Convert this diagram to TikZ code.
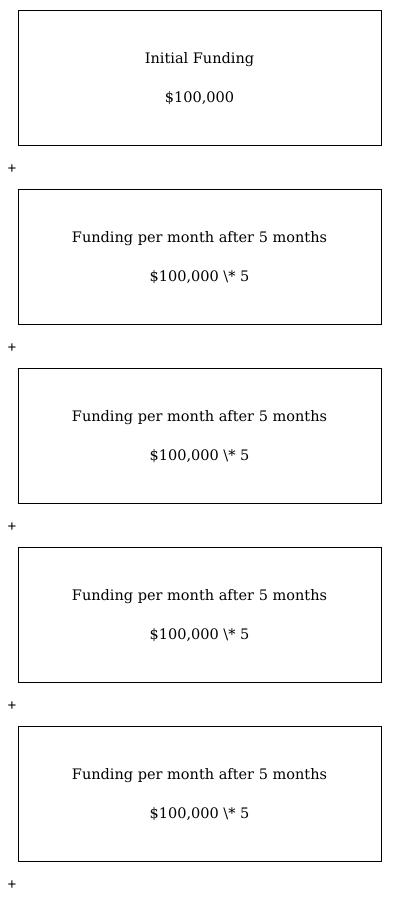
\documentclass[tikz,border=0pt]{standalone}
\usepackage{fontspec}
\newfontfamily\plusfont{Liberation Sans}
\newfontfamily\boxfont{DejaVu Serif}
\tikzset{
  fundbox/.style={draw=black, line width=0.9pt, minimum width=363pt, minimum height=135pt, anchor=north west, inner sep=0pt},
  fundtext/.style={font=\boxfont\fontsize{14.5}{17}\selectfont, anchor=center, inner sep=0pt},
  plussign/.style={font=\plusfont\fontsize{15}{17}\selectfont, anchor=center, inner sep=0pt}
}
\begin{document}
\begin{tikzpicture}[x=1pt,y=-1pt]
\useasboundingbox (0,0) rectangle (400,903);
\node[fundbox] (b0) at (18,10) {};
\node[fundtext] (t0a) at (199.5,59.5) {Initial Funding};
\node[fundtext] (t0b) at (199.5,98.5) {\$100,000};
\node[plussign] (p0) at (12,169) {+};
\foreach \i in {1,2,3,4}{
  \pgfmathsetmacro{\top}{10+179*\i}
  \node[fundbox] (b\i) at (18,\top) {};
  \node[fundtext] (t\i a) at (199.5,\top+49.5) {Funding per month after 5 months};
  \node[fundtext] (t\i b) at (199.5,\top+88.5) {\$100,000 \textbackslash* 5};
  \node[plussign] (p\i) at (12,\top+159) {+};
}
\end{tikzpicture}
\end{document}
